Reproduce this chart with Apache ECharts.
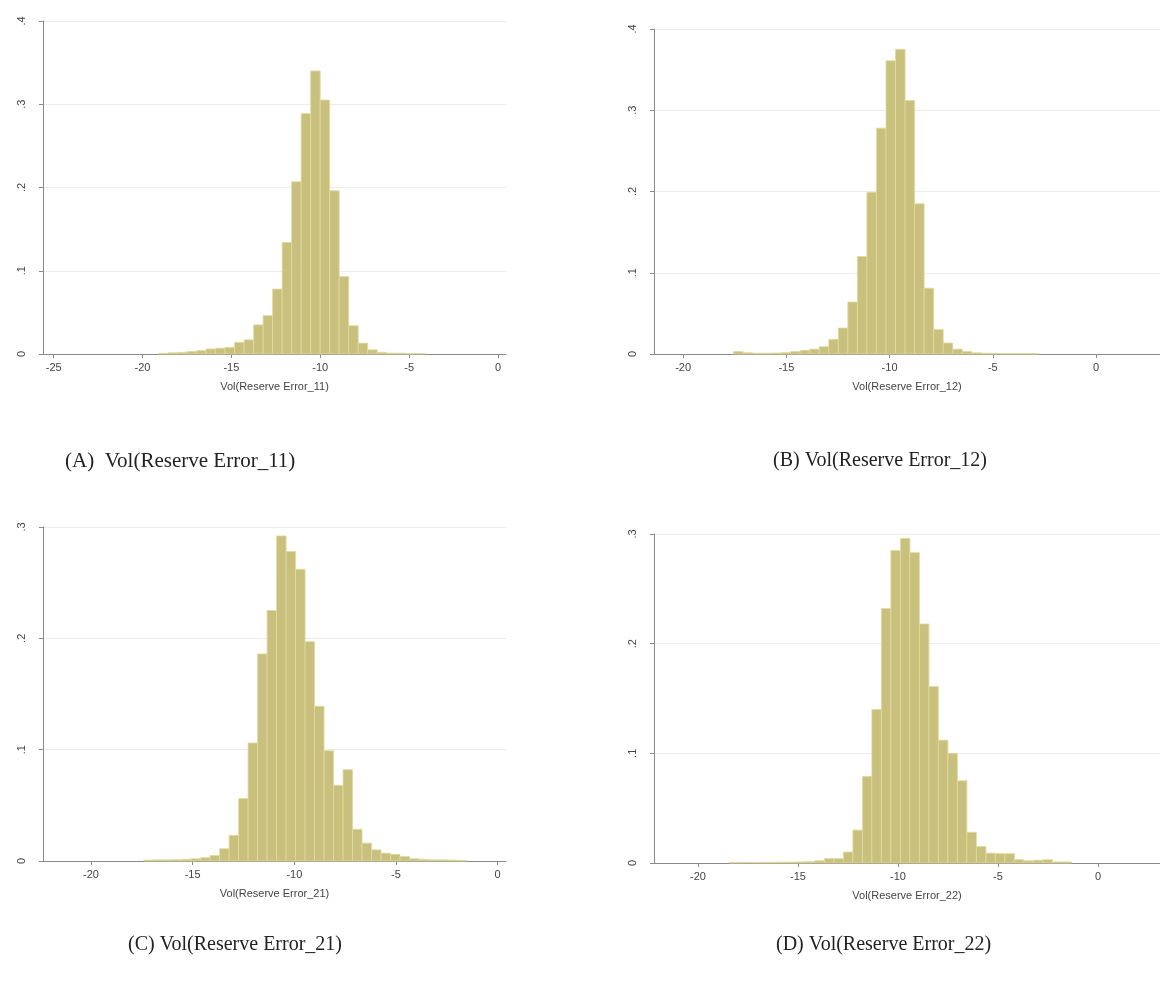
<!DOCTYPE html>
<html>
<head>
<meta charset="utf-8">
<script src="https://cdn.jsdelivr.net/npm/echarts@6/dist/echarts.min.js"></script>
<style>
  html, body { margin: 0; padding: 0; background: #fff; }
  #main { width: 1160px; height: 982px; }
</style>
</head>
<body>
<div id="main"></div>
<script>
// histogram data (density)
const startA = -19.1, widthA = 0.535;
const densA = [0.0008, 0.0015, 0.002, 0.003, 0.004, 0.006, 0.007, 0.008, 0.014, 0.017,
  0.035, 0.046, 0.078, 0.134, 0.207, 0.289, 0.340, 0.305, 0.196, 0.093,
  0.034, 0.013, 0.005, 0.002, 0.001, 0.001, 0.0005, 0.0005];

const startB = -17.564, widthB = 0.462;
const densB = [0.003, 0.0015, 0.001, 0.001, 0.0012, 0.0018, 0.003, 0.0045, 0.006, 0.009,
  0.018, 0.032, 0.064, 0.120, 0.199, 0.278, 0.361, 0.375, 0.312, 0.185,
  0.081, 0.030, 0.0135, 0.006, 0.003, 0.0015, 0.001, 0.0008, 0.0005, 0.0005,
  0.0005, 0.0005];

const startC = -17.41, widthC = 0.467;
const densC = [0.0008, 0.001, 0.001, 0.0012, 0.0015, 0.002, 0.003, 0.005, 0.011, 0.023,
  0.056, 0.106, 0.186, 0.225, 0.292, 0.278, 0.262, 0.197, 0.139, 0.099,
  0.068, 0.082, 0.0285, 0.016, 0.010, 0.007, 0.006, 0.004, 0.002, 0.0015,
  0.001, 0.001, 0.0008, 0.0005];

const startD = -18.43, widthD = 0.475;
const densD = [0.0005, 0.0005, 0.0005, 0.0006, 0.0006, 0.0007, 0.0008, 0.001, 0.0012, 0.002,
  0.004, 0.004, 0.010, 0.030, 0.079, 0.140, 0.232, 0.285, 0.296, 0.283,
  0.218, 0.161, 0.112, 0.100, 0.075, 0.028, 0.015, 0.009, 0.0085, 0.0085,
  0.003, 0.002, 0.0025, 0.003, 0.001, 0.001];

const xTicksA = [-25, -20, -15, -10, -5, 0];
const xTicksB = [-20, -15, -10, -5, 0];
const xNames = ['Vol(Reserve Error_11)', 'Vol(Reserve Error_12)', 'Vol(Reserve Error_21)', 'Vol(Reserve Error_22)'];
const captions = ['(A)  Vol(Reserve Error_11)', '(B) Vol(Reserve Error_12)', '(C) Vol(Reserve Error_21)', '(D) Vol(Reserve Error_22)'];

const barFill = '#c8c07c';
const barEdge = '#e0da9e';

function toBins(start, w, dens) {
  return dens.map((d, i) => [start + i * w, start + (i + 1) * w, d]);
}

function renderBar(params, api) {
  const p0 = api.coord([api.value(0), api.value(2)]);
  const p1 = api.coord([api.value(1), 0]);
  return {
    type: 'rect',
    shape: { x: p0[0], y: p0[1], width: p1[0] - p0[0], height: p1[1] - p0[1] },
    style: { fill: barFill, stroke: barEdge, lineWidth: 0.8 }
  };
}

function yLabel(v) {
  if (v === 0) return '0';
  return String(Math.round(v * 10) / 10).replace('0.', '.');
}

const grids = [
  { left: 43, top: 21, width: 463, height: 333 },
  { left: 654, top: 29, width: 506, height: 325 },
  { left: 43, top: 527, width: 463, height: 334 },
  { left: 654, top: 534, width: 506, height: 329 }
];
const xRanges = [[-25.6, 0.45], [-21.41, 3.1], [-22.36, 0.41], [-22.2, 3.1]];
const yMax = [0.4, 0.4, 0.3, 0.3];
const allBins = [
  toBins(startA, widthA, densA),
  toBins(startB, widthB, densB),
  toBins(startC, widthC, densC),
  toBins(startD, widthD, densD)
];

const axisColor = '#8a8a8a';
const textColor = '#444';

const option = {
  backgroundColor: '#fff',
  animation: false,
  grid: grids.map(g => Object.assign({ outerBoundsMode: 'none', containLabel: false }, g)),
  xAxis: grids.map((g, i) => {
    const ticks = i === 0 ? xTicksA : xTicksB;
    return {
      type: 'value',
      gridIndex: i,
      min: xRanges[i][0],
      max: xRanges[i][1],
      name: xNames[i],
      nameLocation: 'middle',
      nameGap: 27,
      nameTextStyle: { fontFamily: 'Liberation Sans', fontSize: 11, color: textColor },
      axisLine: { show: true, onZero: false, lineStyle: { color: axisColor, width: 1 } },
      axisTick: { show: true, length: 4, customValues: ticks, lineStyle: { color: axisColor } },
      axisLabel: { customValues: ticks, margin: 8, fontFamily: 'Liberation Sans', fontSize: 11, color: textColor },
      splitLine: { show: false }
    };
  }),
  yAxis: grids.map((g, i) => ({
    type: 'value',
    gridIndex: i,
    position: 'left',
    min: 0,
    max: yMax[i],
    interval: 0.1,
    axisLine: { show: true, onZero: false, lineStyle: { color: axisColor, width: 1 } },
    axisTick: { show: true, length: 4, lineStyle: { color: axisColor } },
    axisLabel: { rotate: 90, margin: 16, fontFamily: 'Liberation Sans', fontSize: 11, color: textColor, formatter: yLabel },
    splitLine: { show: true, lineStyle: { color: '#ececec', width: 1 } }
  })),
  series: allBins.map((bins, i) => ({
    type: 'custom',
    xAxisIndex: i,
    yAxisIndex: i,
    renderItem: renderBar,
    encode: { x: [0, 1], y: 2 },
    data: bins
  })),
  graphic: [
    { type: 'text', left: 65, top: 451, style: { text: captions[0], font: '21px "Liberation Serif"', fill: '#222' } },
    { type: 'text', left: 773, top: 451, style: { text: captions[1], font: '20px "Liberation Serif"', fill: '#222' } },
    { type: 'text', left: 128, top: 935, style: { text: captions[2], font: '20px "Liberation Serif"', fill: '#222' } },
    { type: 'text', left: 776, top: 935, style: { text: captions[3], font: '20px "Liberation Serif"', fill: '#222' } }
  ]
};

const myChart = echarts.init(document.getElementById('main'));
myChart.setOption(option);
</script>
</body>
</html>
